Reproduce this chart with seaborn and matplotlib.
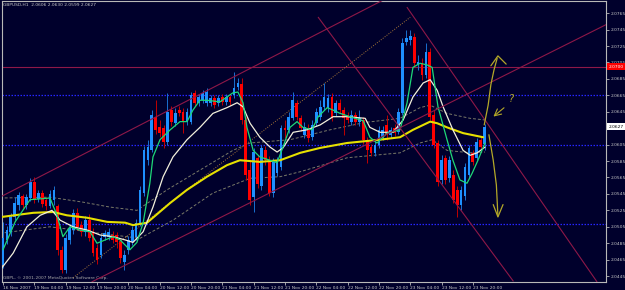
import numpy as np
import matplotlib
matplotlib.use("Agg")
import matplotlib.pyplot as plt
import matplotlib.transforms as mtransforms
import seaborn as sns

# ---------------- data ----------------
symbol_title = "GBPUSD,H1  2.0606 2.0630 2.0599 2.0627"
copyright_text = "GBPL, \u00a9 2001-2007 MetaQuotes Software Corp."

bars = list(range(124))
open_ = [2.0458, 2.0489, 2.0499, 2.0517, 2.0531, 2.0542, 2.0531, 2.0540, 2.0559, 2.0539,
         2.0546, 2.0538, 2.0530, 2.0538, 2.0530, 2.0477, 2.0452, 2.0489, 2.0501, 2.0522,
         2.0507, 2.0499, 2.0513, 2.0499, 2.0479, 2.0471, 2.0493, 2.0493, 2.0495, 2.0495,
         2.0486, 2.0462, 2.0477, 2.0486, 2.0493, 2.0510, 2.0546, 2.0586, 2.0598, 2.0639,
         2.0626, 2.0625, 2.0608, 2.0647, 2.0631, 2.0647, 2.0645, 2.0633, 2.0633, 2.0668,
         2.0656, 2.0659, 2.0656, 2.0656, 2.0662, 2.0656, 2.0663, 2.0657, 2.0663, 2.0665,
         2.0675, 2.0679, 2.0635, 2.0574, 2.0541, 2.0589, 2.0555, 2.0598, 2.0586, 2.0546,
         2.0570, 2.0578, 2.0625, 2.0623, 2.0637, 2.0656, 2.0637, 2.0617, 2.0625, 2.0614,
         2.0631, 2.0639, 2.0651, 2.0650, 2.0663, 2.0643, 2.0656, 2.0647, 2.0641, 2.0633,
         2.0641, 2.0633, 2.0635, 2.0611, 2.0602, 2.0595, 2.0605, 2.0614, 2.0629, 2.0617,
         2.0625, 2.0620, 2.0643, 2.0730, 2.0732, 2.0736, 2.0702, 2.0704, 2.0690, 2.0718,
         2.0641, 2.0607, 2.0562, 2.0589, 2.0564, 2.0568, 2.0550, 2.0531, 2.0542, 2.0568,
         2.0595, 2.0589, 2.0611, 2.0606]
high = [2.0511, 2.0506, 2.0522, 2.0541, 2.0547, 2.0545, 2.0545, 2.0564, 2.0566, 2.0550,
        2.0550, 2.0541, 2.0550, 2.0555, 2.0533, 2.0482, 2.0496, 2.0508, 2.0527, 2.0528,
        2.0512, 2.0518, 2.0521, 2.0503, 2.0484, 2.0496, 2.0501, 2.0503, 2.0500, 2.0499,
        2.0491, 2.0477, 2.0494, 2.0506, 2.0514, 2.0555, 2.0603, 2.0611, 2.0647, 2.0659,
        2.0635, 2.0629, 2.0668, 2.0652, 2.0650, 2.0652, 2.0650, 2.0650, 2.0669, 2.0671,
        2.0667, 2.0671, 2.0674, 2.0665, 2.0665, 2.0665, 2.0667, 2.0667, 2.0667, 2.0693,
        2.0686, 2.0686, 2.0639, 2.0586, 2.0601, 2.0592, 2.0605, 2.0603, 2.0591, 2.0589,
        2.0590, 2.0629, 2.0635, 2.0645, 2.0669, 2.0659, 2.0641, 2.0633, 2.0630, 2.0635,
        2.0650, 2.0659, 2.0680, 2.0667, 2.0668, 2.0659, 2.0660, 2.0651, 2.0645, 2.0647,
        2.0645, 2.0647, 2.0639, 2.0614, 2.0606, 2.0609, 2.0628, 2.0628, 2.0641, 2.0626,
        2.0630, 2.0650, 2.0735, 2.0745, 2.0745, 2.0741, 2.0714, 2.0710, 2.0729, 2.0723,
        2.0647, 2.0611, 2.0592, 2.0592, 2.0591, 2.0574, 2.0555, 2.0555, 2.0583, 2.0605,
        2.0598, 2.0613, 2.0614, 2.0630]
low = [2.0455, 2.0484, 2.0494, 2.0513, 2.0525, 2.0528, 2.0527, 2.0536, 2.0534, 2.0535,
       2.0529, 2.0525, 2.0528, 2.0531, 2.0471, 2.0449, 2.0449, 2.0484, 2.0496, 2.0501,
       2.0494, 2.0494, 2.0488, 2.0469, 2.0460, 2.0467, 2.0489, 2.0489, 2.0485, 2.0479,
       2.0461, 2.0452, 2.0472, 2.0483, 2.0489, 2.0506, 2.0542, 2.0580, 2.0596, 2.0618,
       2.0614, 2.0601, 2.0605, 2.0628, 2.0628, 2.0640, 2.0619, 2.0629, 2.0630, 2.0652,
       2.0652, 2.0656, 2.0652, 2.0652, 2.0650, 2.0652, 2.0653, 2.0653, 2.0653, 2.0662,
       2.0671, 2.0630, 2.0562, 2.0531, 2.0523, 2.0552, 2.0550, 2.0580, 2.0542, 2.0541,
       2.0567, 2.0574, 2.0613, 2.0619, 2.0635, 2.0635, 2.0622, 2.0613, 2.0608, 2.0611,
       2.0628, 2.0635, 2.0647, 2.0645, 2.0634, 2.0640, 2.0643, 2.0617, 2.0631, 2.0629,
       2.0629, 2.0628, 2.0606, 2.0583, 2.0591, 2.0591, 2.0601, 2.0611, 2.0611, 2.0613,
       2.0616, 2.0618, 2.0641, 2.0726, 2.0726, 2.0701, 2.0696, 2.0684, 2.0686, 2.0635,
       2.0601, 2.0555, 2.0557, 2.0557, 2.0559, 2.0534, 2.0517, 2.0525, 2.0538, 2.0564,
       2.0580, 2.0586, 2.0598, 2.0599]
close = [2.0491, 2.0501, 2.0517, 2.0534, 2.0544, 2.0531, 2.0541, 2.0559, 2.0538, 2.0546,
         2.0533, 2.0530, 2.0545, 2.0550, 2.0477, 2.0452, 2.0491, 2.0503, 2.0522, 2.0505,
         2.0499, 2.0513, 2.0491, 2.0473, 2.0465, 2.0491, 2.0497, 2.0499, 2.0489, 2.0486,
         2.0467, 2.0471, 2.0489, 2.0501, 2.0510, 2.0550, 2.0598, 2.0602, 2.0641, 2.0623,
         2.0619, 2.0608, 2.0645, 2.0633, 2.0643, 2.0643, 2.0633, 2.0645, 2.0665, 2.0656,
         2.0663, 2.0668, 2.0669, 2.0662, 2.0653, 2.0662, 2.0657, 2.0663, 2.0657, 2.0674,
         2.0680, 2.0635, 2.0568, 2.0538, 2.0596, 2.0557, 2.0601, 2.0586, 2.0546, 2.0584,
         2.0586, 2.0625, 2.0623, 2.0639, 2.0659, 2.0639, 2.0625, 2.0626, 2.0613, 2.0629,
         2.0645, 2.0651, 2.0663, 2.0662, 2.0637, 2.0656, 2.0647, 2.0637, 2.0635, 2.0641,
         2.0633, 2.0637, 2.0611, 2.0598, 2.0595, 2.0605, 2.0623, 2.0623, 2.0617, 2.0623,
         2.0619, 2.0645, 2.0729, 2.0735, 2.0737, 2.0704, 2.0706, 2.0690, 2.0718, 2.0639,
         2.0605, 2.0559, 2.0586, 2.0562, 2.0586, 2.0538, 2.0531, 2.0550, 2.0578, 2.0601,
         2.0584, 2.0608, 2.0602, 2.0627]

# indicator lines (bar position, price)
green_bar = [0.0, 3.1, 6.9, 9.5, 12.0, 13.8, 15.3, 17.1, 19.7, 22.2, 24.0, 26.1, 28.1, 29.9, 32.4,
             34.2, 35.8, 37.5, 38.3, 40.1, 42.7, 45.2, 47.0, 48.5, 50.3, 52.1, 55.4, 58.7, 60.0,
             61.3, 62.3, 63.9, 65.6, 68.2, 70.0, 71.5, 73.3, 75.1, 76.6, 78.9, 80.5, 82.8, 84.3,
             86.1, 88.6, 92.0, 93.7, 95.5, 98.1, 101.4, 103.2, 104.7, 106.5, 108.3, 109.6, 111.1,
             113.4, 114.9, 116.7, 118.5, 119.8, 121.3, 123.1]
green_price = [2.0477, 2.0511, 2.0538, 2.0539, 2.0540, 2.0519, 2.0493, 2.0505, 2.0501, 2.0499,
               2.0485, 2.0489, 2.0493, 2.0489, 2.0477, 2.0486, 2.0510, 2.0558, 2.0590, 2.0611,
               2.0623, 2.0633, 2.0633, 2.0647, 2.0659, 2.0659, 2.0657, 2.0668, 2.0669, 2.0656,
               2.0626, 2.0598, 2.0590, 2.0586, 2.0583, 2.0602, 2.0626, 2.0633, 2.0626, 2.0623,
               2.0639, 2.0650, 2.0647, 2.0643, 2.0639, 2.0634, 2.0614, 2.0607, 2.0619, 2.0623,
               2.0656, 2.0699, 2.0704, 2.0702, 2.0699, 2.0651, 2.0611, 2.0586, 2.0562, 2.0558,
               2.0570, 2.0586, 2.0607]
white_bar = [-0.3, 2.6, 6.1, 9.5, 12.5, 14.6, 17.9, 21.5, 24.8, 28.1, 31.2, 33.2, 35.8, 38.3, 40.9,
             43.4, 47.0, 50.3, 53.6, 57.2, 59.8, 61.3, 63.1, 65.6, 68.2, 70.0, 71.5, 74.1, 77.6,
             81.0, 84.3, 87.9, 92.5, 93.7, 96.3, 99.6, 102.2, 104.7, 107.3, 109.1, 110.9, 112.4,
             114.9, 117.5, 119.3, 121.1, 123.1]
white_price = [2.0455, 2.0473, 2.0505, 2.0519, 2.0525, 2.0513, 2.0505, 2.0501, 2.0495, 2.0493,
               2.0489, 2.0486, 2.0499, 2.0529, 2.0566, 2.0590, 2.0611, 2.0626, 2.0643, 2.0650,
               2.0656, 2.0651, 2.0631, 2.0614, 2.0602, 2.0596, 2.0601, 2.0620, 2.0623, 2.0629,
               2.0639, 2.0639, 2.0637, 2.0626, 2.0620, 2.0620, 2.0635, 2.0663, 2.0680, 2.0684,
               2.0671, 2.0651, 2.0623, 2.0598, 2.0592, 2.0595, 2.0602]
yellow_bar = [-0.3, 7.7, 12.8, 16.3, 21.5, 26.6, 31.2, 33.2, 36.8, 42.7, 47.0, 52.1, 57.2, 60.5,
              65.6, 70.8, 75.9, 81.0, 87.9, 96.3, 101.4, 104.7, 109.1, 110.9, 113.4, 117.5, 122.6]
yellow_price = [2.0517, 2.0522, 2.0523, 2.0519, 2.0516, 2.0511, 2.0510, 2.0507, 2.0510, 2.0534,
                2.0550, 2.0566, 2.0580, 2.0586, 2.0584, 2.0586, 2.0595, 2.0601, 2.0607, 2.0611,
                2.0614, 2.0623, 2.0633, 2.0631, 2.0626, 2.0619, 2.0614]
band_up_bar = [-0.8, 12.0, 20.4, 27.3, 34.2, 41.9, 50.3, 58.7, 63.1, 73.3, 83.5, 92.5, 101.4,
               106.5, 109.1, 113.4, 119.3, 123.1]
band_up_price = [2.0540, 2.0541, 2.0535, 2.0529, 2.0525, 2.0550, 2.0574, 2.0598, 2.0607, 2.0611,
                 2.0623, 2.0632, 2.0637, 2.0650, 2.0653, 2.0643, 2.0637, 2.0635]
band_dn_bar = [-0.8, 12.0, 24.8, 35.0, 43.4, 53.6, 63.1, 70.8, 75.9, 87.9, 101.4, 106.5, 109.6,
               113.4, 119.3, 123.1]
band_dn_price = [2.0497, 2.0505, 2.0497, 2.0491, 2.0513, 2.0546, 2.0564, 2.0566, 2.0572, 2.0589,
                 2.0595, 2.0607, 2.0611, 2.0598, 2.0595, 2.0596]

# drawn objects (bar position, price)
channel_up = ([-0.8, 97.1], [2.0541, 2.0781])
channel_dn = ([22.7, 154.0], [2.0438, 2.0751])
desc_a = ([80.5, 130.3], [2.0760, 2.0439])
desc_b = ([103.2, 151.7], [2.0772, 2.0438])
trend_dotted = ([17.9, 104.0], [2.0443, 2.0760])
red_level = 2.0700
blue_levels = [2.0665, 2.0605, 2.0508]
up_curve = ([122.9, 123.9, 124.6, 125.4, 126.2], [2.0629, 2.0653, 2.0678, 2.0696, 2.0710])
up_head = ([124.6, 126.4, 128.5], [2.0701, 2.0713, 2.0703])
dn_curve = ([124.1, 125.2, 126.0, 126.4], [2.0617, 2.0586, 2.0556, 2.0518])
dn_head = ([125.2, 126.4, 127.7], [2.0532, 2.0517, 2.0532])
pointer = ([128.5, 124.7], [2.0652, 2.0637])
question_pos = (129.8, 2.0660)

time_tick_bars = [0, 8, 16, 24, 32, 40, 48, 56, 64, 72, 80, 88, 96, 104, 112, 120]
time_tick_labels = ["16 Nov 2007", "19 Nov 04:00", "19 Nov 12:00", "19 Nov 20:00",
                    "20 Nov 04:00", "20 Nov 12:00", "20 Nov 20:00", "21 Nov 04:00",
                    "21 Nov 12:00", "21 Nov 20:00", "22 Nov 04:00", "22 Nov 12:00",
                    "22 Nov 20:00", "23 Nov 04:00", "23 Nov 12:00", "23 Nov 20:00"]
price_ticks = [2.0445, 2.0465, 2.0485, 2.0505, 2.0525, 2.0545, 2.0565, 2.0585, 2.0605,
               2.0645, 2.0665, 2.0685, 2.0705, 2.0725, 2.0745, 2.0765]
price_tick_labels = ["2.0445", "2.0465", "2.0485", "2.0505", "2.0525", "2.0545", "2.0565",
                     "2.0585", "2.0605", "2.0645", "2.0665", "2.0685", "2.0705", "2.0725",
                     "2.0745", "2.0765"]
current_price = 2.0627

# ---------------- style ----------------
BG = '#00002c'
FG = '#c8c8c8'
UP = '#1e90ff'
DOWN = '#ff0000'
CRIMSON = '#8e1848'
BLUE_LVL = '#2626ff'
HAND = '#b4a828'

sns.set_theme(style='dark', rc={'axes.facecolor': BG, 'figure.facecolor': BG,
                                'axes.edgecolor': '#b8b8b8', 'axes.grid': False})
plt.rcParams['font.family'] = ['DejaVu Sans']

fig = plt.figure(figsize=(6.25, 2.9), dpi=100)
fig.patch.set_facecolor(BG)
ax = fig.add_axes([2 / 625, 8 / 290, 604 / 625, 281 / 290])
ax.set_facecolor(BG)
ax.set_xlim(-0.255, 154.0)
ax.set_ylim(2.04378, 2.07798)

# horizontal levels
ax.axhline(red_level, color=CRIMSON, lw=0.8, zorder=1)
for lv in blue_levels:
    ax.axhline(lv, color=BLUE_LVL, lw=0.9, ls=(0, (1.2, 1.2)), zorder=1)

# bands (dashed)
sns.lineplot(x=band_up_bar, y=band_up_price, ax=ax, color='#7a7a68', lw=0.7,
             linestyle=(0, (3, 2)), estimator=None, errorbar=None, zorder=2)
sns.lineplot(x=band_dn_bar, y=band_dn_price, ax=ax, color='#7a7a68', lw=0.7,
             linestyle=(0, (3, 2)), estimator=None, errorbar=None, zorder=2)
# dotted trend
ax.plot(trend_dotted[0], trend_dotted[1], color='#a87838', lw=0.7, ls=(0, (1, 1.5)), zorder=2)

# candles
x = np.array(bars, dtype=float)
o = np.array(open_); h = np.array(high); l = np.array(low); c = np.array(close)
up = c >= o
dn = ~up
body_bottom = np.minimum(o, c)
body_h = np.maximum(np.abs(c - o), 0.00005)
ax.vlines(x[up], l[up], h[up], color='#1a70d0', lw=0.7, zorder=3)
ax.vlines(x[dn], l[dn], h[dn], color='#c00000', lw=0.7, zorder=3)
ax.bar(x[up], body_h[up], bottom=body_bottom[up], width=0.7, color=UP, linewidth=0, zorder=3)
ax.bar(x[dn], body_h[dn], bottom=body_bottom[dn], width=0.7, color=DOWN, linewidth=0, zorder=3)

# moving averages
sns.lineplot(x=yellow_bar, y=yellow_price, ax=ax, color='#e6e000', lw=1.5,
             estimator=None, errorbar=None, zorder=4)
sns.lineplot(x=white_bar, y=white_price, ax=ax, color='#f2f0dc', lw=0.9,
             estimator=None, errorbar=None, zorder=4)
sns.lineplot(x=green_bar, y=green_price, ax=ax, color='#1ed878', lw=0.9,
             estimator=None, errorbar=None, zorder=4)

# drawn trend lines
for seg in (channel_up, channel_dn, desc_a, desc_b):
    ax.plot(seg[0], seg[1], color=CRIMSON, lw=0.8, zorder=5)

# hand drawn arrows
for seg in (up_curve, up_head, dn_curve, dn_head):
    ax.plot(seg[0], seg[1], color=HAND, lw=0.9, zorder=6, solid_capstyle='round')
ax.annotate('', xy=(pointer[0][1], pointer[1][1]), xytext=(pointer[0][0], pointer[1][0]),
            arrowprops=dict(arrowstyle='->', color=HAND, lw=0.8), zorder=6)
ax.text(question_pos[0], question_pos[1], '?', color=HAND, fontsize=7, style='italic',
        ha='center', va='center', zorder=6)

# axes / ticks
for s in ax.spines.values():
    s.set_color('#b8b8b8'); s.set_linewidth(0.8)
ax.yaxis.tick_right()
ax.set_yticks(price_ticks)
ax.set_yticklabels(price_tick_labels)
ax.set_xticks(time_tick_bars)
ax.set_xticklabels(time_tick_labels, ha='left')
ax.tick_params(axis='y', which='major', right=True, left=False, direction='out', length=2,
               width=0.6, color='#b8b8b8', labelsize=3.2, labelcolor=FG, pad=1.2)
ax.tick_params(axis='x', which='major', bottom=True, direction='out', length=2,
               width=0.6, color='#b8b8b8', labelsize=3.2, labelcolor=FG, pad=1.0)
ax.set_xlabel(''); ax.set_ylabel('')

trans = mtransforms.blended_transform_factory(ax.transAxes, ax.transData)
ax.text(1.004, red_level, f"{red_level:.4f}", transform=trans, fontsize=3.2, color='white',
        va='center', ha='left', clip_on=False,
        bbox=dict(boxstyle='square,pad=0.25', fc='#ff0000', ec='none'))
ax.text(1.004, current_price, f"{current_price:.4f}", transform=trans, fontsize=3.2, color='black',
        va='center', ha='left', clip_on=False,
        bbox=dict(boxstyle='square,pad=0.25', fc='white', ec='none'))

ax.text(0.002, 0.992, symbol_title, transform=ax.transAxes, fontsize=3.2, color=FG,
        va='top', ha='left')
ax.text(0.002, 0.008, copyright_text, transform=ax.transAxes, fontsize=3.2, color='#a8a8a8',
        va='bottom', ha='left')

fig.savefig('out.png', dpi=100, facecolor=BG)
